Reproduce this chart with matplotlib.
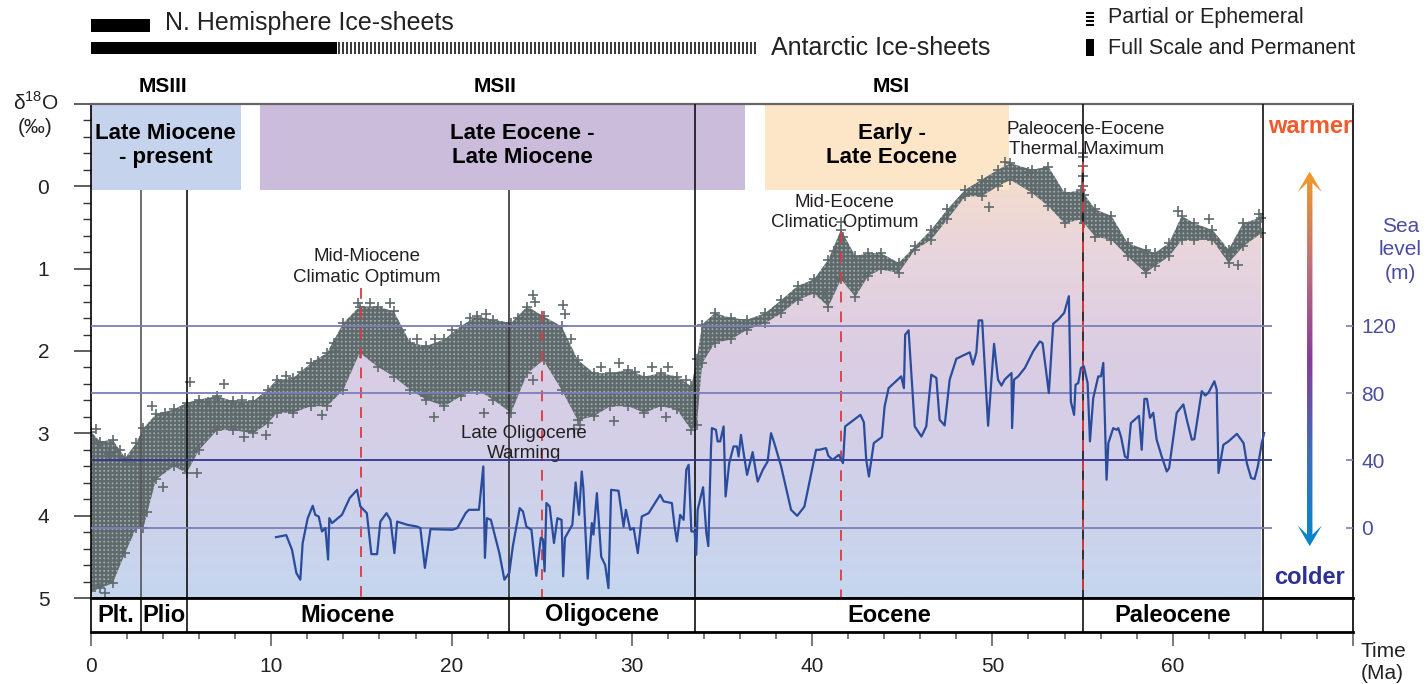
import numpy as np
import matplotlib.pyplot as plt
from matplotlib.colors import LinearSegmentedColormap
from matplotlib.patches import Rectangle, Polygon
from matplotlib.transforms import blended_transform_factory
from matplotlib.ticker import FixedLocator, FuncFormatter

plt.rcParams['font.family'] = ['Liberation Sans', 'DejaVu Sans']
plt.rcParams['hatch.linewidth'] = 1.7

# benthic d18O record: upper / lower edge of the cloud of measurements (Ma, permil)
d18_age = [0.0, 0.5, 1.2, 1.9, 2.5, 2.9, 3.6, 4.6, 5.3, 6.0, 7.0, 7.9, 9.0, 9.8,
           10.3, 11.2, 12.2, 13.1, 14.0, 14.9, 15.9, 16.8, 17.7, 18.6, 19.6, 20.5,
           21.4, 22.3, 23.3, 24.2, 25.1, 26.1, 27.0, 27.9, 28.8, 29.8, 30.7, 31.6,
           32.5, 33.3, 33.6, 33.9, 34.6, 35.5, 36.4, 37.4, 38.3, 39.2, 40.1, 40.9,
           41.6, 42.4, 43.1, 43.8, 44.8, 45.7, 46.6, 47.5, 48.5, 49.4, 50.3, 51.0,
           52.2, 53.1, 54.0, 54.9, 55.0, 55.1, 55.7, 56.6, 57.5, 58.5, 59.0, 59.8,
           60.5, 61.2, 62.2, 63.1, 63.9, 64.9]
d18_top = [2.98, 3.10, 3.08, 3.30, 3.12, 2.94, 2.77, 2.71, 2.63, 2.59, 2.55, 2.61, 2.61, 2.47,
           2.35, 2.33, 2.15, 2.02, 1.66, 1.46, 1.46, 1.52, 1.90, 1.94, 1.86, 1.70,
           1.58, 1.62, 1.66, 1.46, 1.58, 1.70, 2.11, 2.27, 2.27, 2.23, 2.31, 2.27,
           2.31, 2.43, 2.10, 1.68, 1.54, 1.60, 1.62, 1.54, 1.38, 1.21, 1.13, 0.89,
           0.53, 0.85, 0.81, 0.81, 0.93, 0.73, 0.53, 0.28, 0.04, -0.08, -0.20, -0.28,
           -0.20, -0.24, 0.08, 0.05, -0.40, 0.10, 0.28, 0.36, 0.69, 0.77, 0.81, 0.69,
           0.36, 0.45, 0.53, 0.77, 0.45, 0.38]
d18_bot = [4.92, 4.88, 4.82, 4.45, 4.15, 4.15, 3.56, 3.40, 3.48, 3.20, 2.96, 2.96, 3.00, 2.88,
           2.75, 2.75, 2.67, 2.67, 2.47, 2.02, 2.19, 2.31, 2.47, 2.59, 2.67, 2.55,
           2.47, 2.59, 2.75, 2.27, 2.11, 2.47, 2.84, 2.79, 2.67, 2.67, 2.75, 2.67,
           2.71, 2.96, 2.90, 2.15, 1.90, 1.86, 1.74, 1.66, 1.54, 1.38, 1.30, 1.46,
           1.13, 1.34, 1.09, 1.01, 1.05, 0.77, 0.65, 0.40, 0.12, 0.12, 0.00, -0.08,
           0.08, 0.24, 0.45, 0.40, 0.40, 0.45, 0.61, 0.65, 0.85, 1.05, 0.97, 0.85,
           0.65, 0.65, 0.65, 0.93, 0.73, 0.57]

# single measurements standing out of the cloud
pt_age = [0.3, 0.8, 1.0, 3.4, 5.5, 5.9, 7.4, 9.7, 14.8, 15.5, 16.6, 18.5, 24.5, 24.6,
          26.2, 26.3, 40.7, 41.2, 41.6, 41.7, 49.8, 50.7, 52.0, 55.0, 55.0, 55.0,
          55.0, 60.3, 62.0, 63.6, 64.8,
          1.6, 2.2, 4.1, 6.5, 8.4, 10.8, 11.7, 12.6, 13.5, 13.6, 17.2, 18.1, 19.1, 20.0,
          21.0, 21.9, 22.8, 23.7, 26.6, 27.4, 28.3, 29.3, 30.2, 31.1, 32.0, 33.0,
          24.5, 26.8, 27.1, 19.0, 21.8, 29.0, 31.9, 12.8, 8.5, 4.0, 3.1]
pt_d18 = [2.95, 4.94, 3.25, 2.67, 2.38, 3.48, 2.40, 3.02, 1.42, 1.42, 1.42, 2.55, 1.32, 1.40,
          1.44, 1.55, 1.30, 0.78, 0.43, 0.62, 0.25, -0.30, -0.18, -0.36, -0.25, -0.12,
          0.00, 0.30, 0.40, 0.95, 0.33,
          3.20, 3.35, 2.75, 2.62, 2.60, 2.30, 2.25, 2.12, 1.90, 2.00, 1.75, 1.85, 1.85, 1.75,
          1.60, 1.55, 1.70, 1.60, 1.85, 2.30, 2.20, 2.15, 2.25, 2.20, 2.20, 2.35,
          2.35, 2.95, 2.90, 2.80, 2.75, 2.85, 2.80, 2.78, 3.05, 3.65, 3.95]

# sea level curve (m)
sl_age = [10.26, 10.83, 11.15, 11.39, 11.61, 11.74, 12.02, 12.3, 12.44, 12.63, 12.81, 13.0,
          13.15, 13.22, 13.37, 13.92, 14.35, 14.76, 14.94, 15.3, 15.55, 15.87, 16.05, 16.39,
          16.61, 16.83, 16.98, 17.53, 18.09, 18.27, 18.52, 18.83, 20.04, 20.32, 20.78, 20.96,
          21.52, 21.76, 21.85, 21.96, 22.18, 22.65, 22.93, 23.2, 23.4, 23.78, 23.96, 24.15,
          24.43, 24.7, 24.95, 25.07, 25.16, 25.26, 25.44, 25.68, 25.87, 26.1, 26.19, 26.29,
          26.7, 26.88, 27.07, 27.22, 27.31, 27.55, 27.78, 27.87, 28.06, 28.3, 28.52, 28.7,
          28.85, 29.26, 29.54, 29.67, 29.91, 30.1, 30.33, 30.55, 30.93, 31.57, 31.76, 32.22,
          32.37, 32.5, 32.68, 32.87, 33.02, 33.15, 33.3, 33.48, 33.57, 33.65, 33.95, 34.13,
          34.24, 34.39, 34.44, 34.66, 34.76, 34.9, 35.09, 35.2, 35.4, 35.64, 35.83, 35.92,
          36.05, 36.2, 36.39, 36.7, 36.89, 36.98, 37.26, 37.53, 37.72, 37.9, 38.28, 38.83,
          39.17, 39.57, 40.22, 40.4, 40.77, 40.9, 41.14, 41.48, 41.71, 41.83, 42.68, 42.87,
          43.0, 43.15, 43.42, 43.87, 44.02, 44.24, 44.94, 45.09, 45.16, 45.35, 45.69, 46.06,
          46.33, 46.61, 46.89, 47.07, 47.35, 47.63, 48.0, 48.74, 48.92, 49.11, 49.24, 49.43,
          49.76, 50.09, 50.31, 50.5, 50.68, 51.06, 51.09, 51.2, 51.43, 51.8, 52.26, 52.63,
          52.78, 53.13, 53.37, 53.65, 53.98, 54.24, 54.35, 54.53, 54.61, 54.76, 54.91, 55.07,
          55.28, 55.41, 55.59, 55.87, 56.02, 56.15, 56.33, 56.43, 56.7, 56.89, 56.98, 57.13,
          57.35, 57.5, 57.68, 58.13, 58.28, 58.43, 58.57, 58.74, 58.92, 59.11, 59.39, 59.67,
          59.8, 60.22, 60.59, 60.78, 61.06, 61.2, 61.61, 61.8, 61.98, 62.31, 62.44, 62.54,
          62.81, 63.09, 63.56, 63.93, 64.11, 64.35, 64.54, 64.72, 64.94, 65.07]
sl_m = [-5.7, -4.5, -13.2, -27, -31, -9.2, 5.6, 13, 7.6, 6.6, -2.3, -0.3,
        -19, 5.6, 2.7, 7.6, 17.6, 22.5, 12.6, 8.6, -15.8, -15.8, 3.6, 8.6,
        4.6, -15.2, 3.6, 1.7, 0.6, -0.3, -24, -0.9, -1.3, -0.3, 8.6, 10.6,
        10.6, 36.4, -18, 5.6, 4.6, -15.2, -31, -27, -11, 11.6, 9.6, 0.6,
        -1.3, -28.7, -6.1, -7, -26, 14.6, 12.6, -9.2, 5.6, 4.6, -29, -6.1,
        1.7, 26.9, 7.6, 33.4, 23.5, -30.4, 2.7, -4.2, 20.5, -17.3, -22.3, -36,
        22.5, 21.9, 0.6, 10.6, -1.3, -0.3, -15.2, 6.6, 8.6, 19.5, 15.6, 14.6,
        0.6, -8.2, 7.6, 4.6, 34.4, 37.4, -2.3, -2.3, -16.2, 10.6, 24, -3,
        -11, 47.3, 59.2, 58.2, 51.3, 51.3, 60.2, 18.5, 38.4, 48.3, 48.3, 42.3,
        55.2, 44.3, 31.4, 44.9, 32.6, 27.4, 34.3, 39.3, 56.2, 50.3, 36.4, 10.6,
        7.0, 12.5, 46.3, 46.3, 47.3, 42.7, 40.3, 43.3, 38.4, 60.2, 67.1, 62.6,
        40.3, 30.4, 50.3, 53.9, 72.1, 83, 90, 83, 114.8, 117.4, 60.2, 54.2,
        60.2, 91, 89.1, 64.2, 60.8, 88.1, 100.5, 104.3, 97, 104.3, 123.3, 123.3,
        60.6, 109.4, 88.1, 84.5, 88.1, 92, 59.2, 88.1, 90, 95, 104.9, 110.8,
        109.8, 80.1, 121.3, 123.8, 127.8, 137.7, 75, 67.1, 85, 86, 95, 96,
        86, 51.3, 77, 90, 90, 98, 28.5, 50.3, 59.2, 58.2, 59.2, 54.2,
        42.3, 41.3, 62.2, 66.5, 46.3, 76.6, 76.6, 65.3, 68.3, 52.3, 42.3, 33.4,
        35.4, 68.3, 73.3, 64.3, 52.3, 52.7, 81.2, 78.6, 80.2, 87.1, 82.2, 32.5,
        49.3, 51.3, 55.8, 50.3, 38.4, 29.5, 28.9, 36.4, 50.3, 56.3]

epoch_names = ['Plt.', 'Plio', 'Miocene', 'Oligocene', 'Eocene', 'Paleocene']
epoch_bounds = [0, 2.8, 5.3, 23.2, 33.5, 55.0, 65.0]

# climate events (Ma) and where their labels sit
event_age = [15.0, 25.0, 41.6, 55.0]
event_top = [1.23, 1.52, 0.55, -0.29]
event_text = ['Mid-Miocene\nClimatic Optimum', 'Late Oligocene\nWarming',
              'Mid-Eocene\nClimatic Optimum', 'Paleocene-Eocene\nThermal Maximum']
event_xy = [(15.3, 0.98), (24.0, 3.12), (41.8, 0.32), (55.2, -0.57)]

# model stages (Ma)
stage_names = ['Late Miocene\n- present', 'Late Eocene -\nLate Miocene', 'Early -\nLate Eocene']
stage_start = [0.0, 9.4, 37.4]
stage_end = [8.3, 36.3, 50.9]
stage_colors = ['#c5d3ec', '#cbbcdc', '#fde6c8']
stage_text_x = [4.15, 23.9, 44.4]
ms_names = ['MSIII', 'MSII', 'MSI']
ms_x = [4.0, 22.4, 44.4]

sl_ticks = [0, 40, 80, 120]

fig = plt.figure(figsize=(14.26, 6.84), dpi=100)
L, R = 91 / 1426, 1353 / 1426
ax = fig.add_axes([L, 1 - 598 / 684, R - L, 494 / 684])
ax_ep = fig.add_axes([L, 1 - 632 / 684, R - L, 34 / 684])

age = np.array(d18_age)
top = np.array(d18_top)
bot = np.array(d18_bot)

# background gradient below the record
bg = LinearSegmentedColormap.from_list('bg', [(0, '#c6d6ef'), (0.3, '#d3d0e8'), (0.5, '#dbcde3'),
                                              (0.7, '#e8d5dc'), (0.85, '#f3dccd'), (1, '#f8dec8')])
grad = np.linspace(1, 0, 300).reshape(-1, 1)
im = ax.imshow(grad, cmap=bg, extent=(0, 65, 5, -1), aspect='auto', zorder=0)
area = ax.fill_between(age, (top + bot) / 2, 5, facecolor='none', lw=0)
im.set_clip_path(area.get_paths()[0], transform=ax.transData)

for name, x0, x1, c, tx in zip(stage_names, stage_start, stage_end, stage_colors, stage_text_x):
    ax.add_patch(Rectangle((x0, -1), x1 - x0, 1.04, color=c, lw=0, zorder=1))
    ax.text(tx, -0.5, name, ha='center', va='center', fontsize=16, fontweight='bold',
            linespacing=1.2, zorder=6)

# d18O cloud
ax.fill_between(age, top, bot, facecolor='#a3abad', edgecolor='#5f6a6c', hatch='++++',
                lw=0, zorder=2)
ax.plot(np.concatenate([age, age, pt_age]), np.concatenate([top, bot, pt_d18]),
        ls='none', marker='+', ms=6.5, mew=1.2, color='#5f6a6c', zorder=2)

# epoch boundaries and events
ax.vlines([2.8, 5.3, 23.2], 0.04, 5, colors=['#555555', '#111111', '#333333'], lw=1.2, zorder=3)
ax.vlines([33.5, 55.0, 65.0], -1, 5, colors='#111111', lw=1.2, zorder=3)
for a, t in zip(event_age, event_top):
    ax.vlines(a, t, 5, colors='#e0383e', lw=1.3, linestyles=(0, (6, 5)), zorder=3)
for txt, (x, y) in zip(event_text, event_xy):
    ax.text(x, y, txt, ha='center', va='center', fontsize=13.5, color='#231f20',
            linespacing=1.25, zorder=6)

# warmer / colder arrow
cx, ytip, ybot = 67.6, -0.18, 4.37
hw, sw, hl, nl = 0.67, 0.15, 0.25, 0.14
arrow = Polygon([(cx, ytip), (cx + hw, ytip + hl), (cx + sw, ytip + nl), (cx + sw, ybot - nl),
                 (cx + hw, ybot - hl), (cx, ybot), (cx - hw, ybot - hl), (cx - sw, ybot - nl),
                 (cx - sw, ytip + nl), (cx - hw, ytip + hl)], closed=True, facecolor='none', lw=0)
ax.add_patch(arrow)
acm = LinearSegmentedColormap.from_list('arr', [(0, '#0586cc'), (0.25, '#3f6db8'), (0.5, '#863c99'),
                                                (0.75, '#c06f78'), (1, '#f09a2a')])
aim = ax.imshow(grad, cmap=acm, extent=(cx - hw, cx + hw, ybot, ytip), aspect='auto', zorder=4)
aim.set_clip_path(arrow)
ax.text(cx, -0.725, 'warmer', ha='center', va='center', fontsize=17, fontweight='bold', color='#f15a29')
ax.text(cx, 4.75, 'colder', ha='center', va='center', fontsize=17, fontweight='bold', color='#2e3192')

ax.set_xlim(0, 70)
ax.set_ylim(5, -1)
ax.set_xticks([])
ax.yaxis.set_major_locator(FixedLocator([-1, 0, 1, 2, 3, 4, 5]))
ax.yaxis.set_minor_locator(FixedLocator(np.arange(-1, 5.01, 0.2)))
ax.yaxis.set_major_formatter(FuncFormatter(lambda v, p: '' if v < 0 else '%d' % v))
ax.tick_params(axis='y', which='major', length=12, width=1.1, color='#333333', pad=18,
               labelsize=15, labelcolor='#222222')
ax.tick_params(axis='y', which='minor', length=6, width=1.0, color='#333333')
for s in ax.spines.values():
    s.set_linewidth(1.2)
ax.spines['top'].set_color('#666666')
ax.spines['top'].set_linewidth(1.6)

# sea level on the right axis
ax2 = ax.twinx()
ax2.set_ylim(-41.9, 252.1)
ax2.hlines(sl_ticks, 0, 65.5, colors=['#7b7eb8', '#2f3590', '#7b7eb8', '#7b7eb8'], lw=1.3, zorder=1)
ax2.plot(sl_age, sl_m, color='#2a4c9c', lw=1.6, zorder=2)
ax2.set_yticks(sl_ticks)
ax2.tick_params(axis='y', direction='in', length=5, width=1.2, color='#7b7eb8',
                labelcolor='#4b4d9e', labelsize=15, pad=6)
for s in ax2.spines.values():
    s.set_visible(False)
ax2.text(1.0375, 0.705, 'Sea\nlevel\n(m)', transform=ax.transAxes, ha='center', va='center',
         fontsize=15, color='#4b4d9e', linespacing=1.3)

# epoch band
ax_ep.set_xlim(0, 70)
ax_ep.set_ylim(0, 1)
ax_ep.vlines(epoch_bounds[1:], 0, 1, colors='#111111', lw=1.2)
for i, name in enumerate(epoch_names):
    ax_ep.text((epoch_bounds[i] + epoch_bounds[i + 1]) / 2, 0.5, name, ha='center', va='center',
               fontsize=17, fontweight='bold')
ax_ep.set_yticks([])
ax_ep.set_xticks(range(0, 71, 10))
ax_ep.set_xticklabels([str(v) for v in range(0, 61, 10)] + [''])
ax_ep.set_xticks([v for v in range(2, 70, 2) if v % 10], minor=True)
ax_ep.tick_params(axis='x', which='major', length=10, width=1.1, color='#555555', pad=8,
                  labelsize=15, labelcolor='#222222')
ax_ep.tick_params(axis='x', which='minor', length=5, width=1.1, color='#555555')
for s in ax_ep.spines.values():
    s.set_linewidth(1.2)
ax_ep.spines['top'].set_linewidth(2.0)
ax_ep.spines['bottom'].set_linewidth(2.0)
ax_ep.text(1.006, -0.9, 'Time\n(Ma)', transform=ax_ep.transAxes, ha='left', va='center',
           fontsize=15, color='#222222', linespacing=1.25)

ax.text(-0.044, 0.98, 'δ$^{\\mathregular{18}}$O\n(‰)', transform=ax.transAxes, ha='center',
        va='center', fontsize=15, color='#222222', linespacing=1.3)

# ice-sheet bars above the plot
tr = blended_transform_factory(ax.transData, fig.transFigure)
ax.add_patch(Rectangle((0, 1 - 32 / 684), 3.3, 13 / 684, transform=tr, color='k', lw=0, clip_on=False))
ax.add_patch(Rectangle((0, 1 - 54 / 684), 13.65, 12 / 684, transform=tr, color='k', lw=0, clip_on=False))
ax.vlines(np.arange(13.75, 37.0, 0.222), 1 - 54 / 684, 1 - 42 / 684, transform=tr, colors='k',
          lw=1.1, clip_on=False)
ax.text(4.1, 1 - 23 / 684, 'N. Hemisphere Ice-sheets', transform=tr, va='center', fontsize=18,
        color='#222222')
ax.text(37.7, 1 - 48 / 684, 'Antarctic Ice-sheets', transform=tr, va='center', fontsize=18,
        color='#222222')
ax.hlines(1 - np.array([12.5, 16.5, 20.5, 24.5]) / 684, 55.2, 55.65, transform=tr, colors='k',
          lw=1.5, clip_on=False)
ax.add_patch(Rectangle((55.2, 1 - 56 / 684), 0.45, 17 / 684, transform=tr, color='k', lw=0, clip_on=False))
ax.text(56.4, 1 - 18 / 684, 'Partial or Ephemeral', transform=tr, va='center', fontsize=15.5,
        color='#222222')
ax.text(56.4, 1 - 48 / 684, 'Full Scale and Permanent', transform=tr, va='center', fontsize=15.5,
        color='#222222')
for name, x in zip(ms_names, ms_x):
    ax.text(x, 1 - 86 / 684, name, transform=tr, ha='center', va='center', fontsize=15,
            fontweight='bold')

fig.savefig('out.png', dpi=100)
